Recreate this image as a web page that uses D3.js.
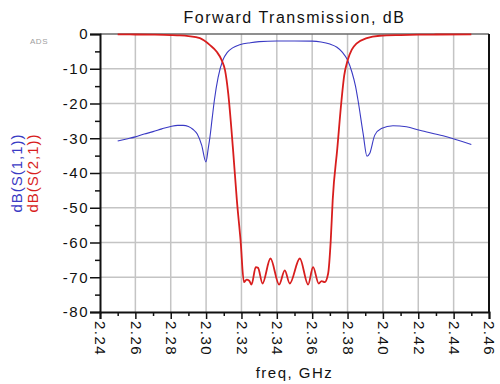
<!DOCTYPE html>
<html>
<head>
<meta charset="utf-8">
<script src="https://cdnjs.cloudflare.com/ajax/libs/d3/7.8.5/d3.min.js"></script>
<style>
  body { margin: 0; background: #fff; }
  svg { display: block; font-family: "Liberation Sans", Arial, sans-serif; }
</style>
</head>
<body>
<svg id="chart" width="500" height="384"></svg>
<script>
// tick values / labels
var xTicks = [2.24, 2.26, 2.28, 2.30, 2.32, 2.34, 2.36, 2.38, 2.40, 2.42, 2.44, 2.46];
var xTickLabels = ["2.24", "2.26", "2.28", "2.30", "2.32", "2.34", "2.36", "2.38", "2.40", "2.42", "2.44", "2.46"];
var xMinorTicks = [2.25, 2.27, 2.29, 2.31, 2.33, 2.35, 2.37, 2.39, 2.41, 2.43, 2.45];
var yTicks = [0, -10, -20, -30, -40, -50, -60, -70, -80];
var yTickLabels = ["0", "-10", "-20", "-30", "-40", "-50", "-60", "-70", "-80"];
var yMinorTicks = [-5, -15, -25, -35, -45, -55, -65, -75];

// dB(S(1,1))
var s11Freq = [2.250, 2.255, 2.260, 2.265, 2.270, 2.275, 2.280, 2.284, 2.287, 2.290,
  2.2925, 2.295, 2.2975, 2.2999, 2.3012, 2.3022, 2.3035, 2.3047, 2.3068, 2.3095,
  2.312, 2.315, 2.319, 2.325, 2.330, 2.340, 2.350, 2.360, 2.365, 2.370,
  2.374, 2.377, 2.380, 2.3825, 2.3845, 2.3859, 2.3888, 2.3910, 2.3925, 2.3954,
  2.3991, 2.4057, 2.4133, 2.4208, 2.434, 2.450];
var s11dB = [-30.8, -30.2, -29.6, -28.8, -28.1, -27.3, -26.6, -26.3, -26.3, -26.6,
  -27.4, -28.8, -32.0, -36.8, -33.0, -29.6, -24.0, -19.0, -12.5, -7.5,
  -5.3, -4.0, -3.1, -2.5, -2.2, -2.0, -2.0, -2.05, -2.3, -2.9,
  -3.8, -5.2, -7.5, -11.0, -15.0, -19.0, -28.6, -35.2, -34.4, -29.1,
  -27.2, -26.4, -26.7, -27.7, -29.3, -31.8];

// dB(S(2,1))
var s21Freq = [2.250, 2.260, 2.270, 2.280, 2.2852, 2.290, 2.2965, 2.3022, 2.306, 2.3088,
  2.3107, 2.3125, 2.3152, 2.3174, 2.3195, 2.3214, 2.3229, 2.3244, 2.3257, 2.3281,
  2.3294, 2.3319, 2.3364, 2.3413, 2.3445, 2.3473, 2.3530, 2.3577, 2.3605, 2.3637,
  2.3653, 2.3671, 2.3690, 2.3705, 2.3716, 2.3742, 2.3766, 2.3781, 2.3801, 2.3824,
  2.3852, 2.3909, 2.3982, 2.410, 2.420, 2.430, 2.450];
var s21dB = [-0.1, -0.15, -0.2, -0.3, -0.4, -0.6, -1.2, -3.2, -5.1, -7.5,
  -10.4, -17.0, -33.0, -47.8, -59.4, -71.4, -70.7, -71.0, -72.1, -67.1,
  -67.3, -71.8, -64.6, -72.1, -68.0, -71.8, -64.6, -72.1, -67.1, -71.8,
  -71.1, -71.4, -69.0, -59.4, -47.8, -33.0, -19.0, -12.0, -7.5, -4.5,
  -2.7, -1.2, -0.5, -0.3, -0.2, -0.15, -0.1];

var blue = "#3a3ac4";
var red = "#d81e1e";

var svg = d3.select("#chart");
// plot box (note: "top" clashes with window.top, so use pTop etc)
var pLeft = 100, pRight = 489, pTop = 34, pBottom = 312;

var x = d3.scaleLinear().domain([2.24, 2.46]).range([pLeft, pRight]);
var y = d3.scaleLinear().domain([-80, 0]).range([pBottom, pTop]);

// grid
svg.append("g")
  .selectAll("line")
  .data(xTicks.slice(1, -1))
  .enter().append("line")
  .attr("x1", function(d) { return x(d); })
  .attr("x2", function(d) { return x(d); })
  .attr("y1", pTop)
  .attr("y2", pBottom)
  .style("stroke", "#c4c4c4")
  .style("stroke-width", 1.5);

svg.append("g")
  .selectAll("line")
  .data(yTicks.slice(1, -1))
  .enter().append("line")
  .attr("x1", pLeft)
  .attr("x2", pRight)
  .attr("y1", function(d) { return y(d); })
  .attr("y2", function(d) { return y(d); })
  .style("stroke", "#c4c4c4")
  .style("stroke-width", 1.5);

// top + right border
svg.append("line")
  .attr("x1", pLeft).attr("x2", pRight)
  .attr("y1", pTop).attr("y2", pTop)
  .style("stroke", "#6a6a6a").style("stroke-width", 1.5);
svg.append("line")
  .attr("x1", pRight).attr("x2", pRight)
  .attr("y1", pTop).attr("y2", pBottom)
  .style("stroke", "#111").style("stroke-width", 2);

// curves
var line = d3.line()
  .x(function(d) { return x(d[0]); })
  .y(function(d) { return y(d[1]); })
  .curve(d3.curveMonotoneX);

svg.append("path")
  .datum(d3.zip(s11Freq, s11dB))
  .attr("d", line)
  .style("fill", "none")
  .style("stroke", blue)
  .style("stroke-width", 1.1);

svg.append("path")
  .datum(d3.zip(s21Freq, s21dB))
  .attr("d", line)
  .style("fill", "none")
  .style("stroke", red)
  .style("stroke-width", 1.8);

// axes
var fontStyle = function(sel) {
  sel.style("font-size", "15px")
    .style("letter-spacing", "1.5px")
    .style("fill", "#111")
    .style("font-family", "'Liberation Sans', Arial, sans-serif");
};

var yAxis = svg.append("g")
  .attr("transform", "translate(" + pLeft + ",0)")
  .call(d3.axisLeft(y).tickValues(yTicks).tickSize(10).tickPadding(1)
    .tickFormat(function(d, i) { return yTickLabels[i]; }));
yAxis.selectAll("text").call(fontStyle);

var yMinor = svg.append("g")
  .attr("transform", "translate(" + pLeft + ",0)")
  .call(d3.axisLeft(y).tickValues(yMinorTicks).tickSize(5).tickFormat(""));
yMinor.select(".domain").remove();

var xAxis = svg.append("g")
  .attr("transform", "translate(0," + pBottom + ")")
  .call(d3.axisBottom(x).tickValues(xTicks).tickSize(7)
    .tickFormat(function(d, i) { return xTickLabels[i]; }));
xAxis.selectAll("text")
  .attr("transform", "rotate(90)")
  .attr("x", 9)
  .attr("y", 0)
  .attr("dy", "0.35em")
  .style("text-anchor", "start")
  .call(fontStyle);

var xMinor = svg.append("g")
  .attr("transform", "translate(0," + pBottom + ")")
  .call(d3.axisBottom(x).tickValues(xMinorTicks).tickSize(4).tickFormat(""));
xMinor.select(".domain").remove();

svg.selectAll(".domain, .tick line")
  .style("stroke", "#111")
  .style("stroke-width", 1.5);
yAxis.select(".domain").style("stroke-width", 2);
xAxis.select(".domain").style("stroke-width", 2);

// title + labels
svg.append("text")
  .attr("x", (pLeft + pRight) / 2)
  .attr("y", 23)
  .attr("text-anchor", "middle")
  .style("font-size", "16px")
  .style("letter-spacing", "1.5px")
  .style("fill", "#111")
  .text("Forward Transmission, dB");

svg.append("text")
  .attr("x", (pLeft + pRight) / 2)
  .attr("y", 378)
  .attr("text-anchor", "middle")
  .style("font-size", "15px")
  .style("letter-spacing", "1.5px")
  .style("fill", "#111")
  .text("freq, GHz");

svg.append("text")
  .attr("x", 39)
  .attr("y", 44)
  .attr("text-anchor", "middle")
  .style("font-size", "8px")
  .style("letter-spacing", "0.5px")
  .style("fill", "#a0a0a0")
  .text("ADS");

svg.append("text")
  .attr("transform", "translate(22," + (pTop + pBottom) / 2 + ") rotate(-90)")
  .attr("text-anchor", "middle")
  .style("font-size", "15px")
  .style("letter-spacing", "1px")
  .style("fill", blue)
  .text("dB(S(1,1))");

svg.append("text")
  .attr("transform", "translate(38," + (pTop + pBottom) / 2 + ") rotate(-90)")
  .attr("text-anchor", "middle")
  .style("font-size", "15px")
  .style("letter-spacing", "1px")
  .style("fill", red)
  .text("dB(S(2,1))");
</script>
</body>
</html>
